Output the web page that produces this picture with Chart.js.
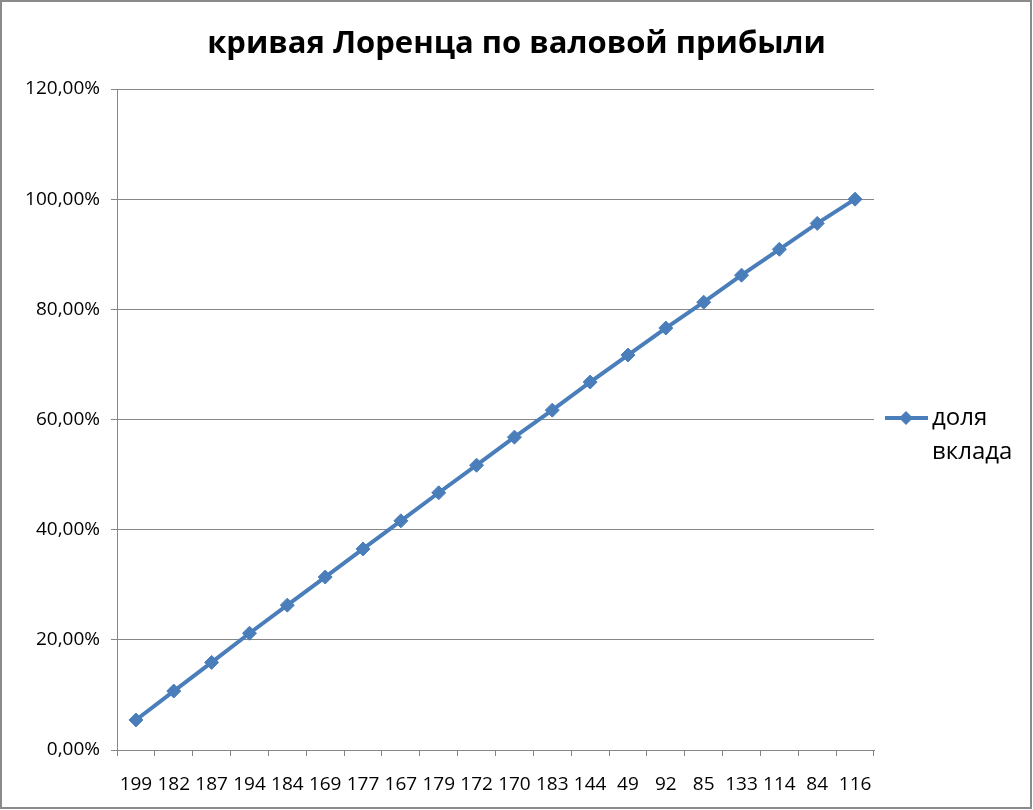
<!DOCTYPE html>
<html lang="ru">
<head>
  <meta charset="UTF-8">
  <title>кривая Лоренца по валовой прибыли</title>
  <script src="https://cdn.jsdelivr.net/npm/chart.js"></script>
  <style>
    html, body {
      margin: 0;
      padding: 0;
      background: #fff;
    }
    #wrap {
      position: fixed;
      left: 0;
      top: 0;
      width: 1033px;
      height: 810px;
    }
    #frame {
      position: absolute;
      left: 0;
      top: 0;
      width: 1032px;
      height: 809px;
      box-sizing: border-box;
      border: 2px solid #8a8a8a;
      pointer-events: none;
    }
  </style>
</head>
<body>
  <div id="wrap">
    <canvas id="lorenz" width="1033" height="810"></canvas>
    <div id="frame"></div>
  </div>

  <script>
    const chartTitle = 'кривая Лоренца по валовой прибыли';
    const seriesName = ['доля', 'вклада'];
    const categories = ['199', '182', '187', '194', '184', '169', '177', '167', '179', '172',
                        '170', '183', '144', '49', '92', '85', '133', '114', '84', '116'];
    const shareValues = [5.45, 10.7, 15.9, 21.2, 26.3, 31.4, 36.5, 41.6, 46.7, 51.7,
                         56.8, 61.7, 66.8, 71.7, 76.6, 81.3, 86.2, 90.9, 95.6, 100];
    const yMin = 0, yMax = 120, yStep = 20;

    const blue = '#4a7ebb';
    const gridGray = '#868686';
    const fontFamily = "'Open Sans', 'Liberation Sans', sans-serif";

    // title + legend drawn by hand so they sit where Excel put them
    const decorations = {
      id: 'decorations',
      afterDraw(chart) {
        const ctx = chart.ctx;
        ctx.save();
        ctx.fillStyle = '#000';
        ctx.textAlign = 'center';
        ctx.textBaseline = 'middle';
        ctx.font = 'bold 31px ' + fontFamily;
        ctx.fillText(chartTitle, chart.width / 2, 44);

        // legend
        const ly = 418;
        ctx.strokeStyle = blue;
        ctx.lineWidth = 4;
        ctx.beginPath();
        ctx.moveTo(885, ly);
        ctx.lineTo(928, ly);
        ctx.stroke();
        ctx.fillStyle = blue;
        ctx.beginPath();
        ctx.moveTo(906, ly - 7);
        ctx.lineTo(913, ly);
        ctx.lineTo(906, ly + 7);
        ctx.lineTo(899, ly);
        ctx.closePath();
        ctx.fill();

        ctx.fillStyle = '#000';
        ctx.textAlign = 'left';
        ctx.font = '24px ' + fontFamily;
        ctx.fillText(seriesName[0], 932, ly);
        ctx.fillText(seriesName[1], 932, ly + 34);
        ctx.restore();
      }
    };

    new Chart(document.getElementById('lorenz'), {
      type: 'line',
      data: {
        labels: categories,
        datasets: [{
          label: seriesName.join(' '),
          data: shareValues,
          borderColor: blue,
          backgroundColor: blue,
          borderWidth: 4,
          pointStyle: 'rectRot',
          pointRadius: 7,
          pointBackgroundColor: blue,
          pointBorderColor: blue,
          pointBorderWidth: 1,
          tension: 0
        }]
      },
      options: {
        responsive: false,
        animation: false,
        layout: {
          padding: { top: 89, right: 159, bottom: 0, left: 0 }
        },
        plugins: {
          legend: { display: false },
          title: { display: false },
          tooltip: { enabled: false }
        },
        scales: {
          x: {
            offset: true,
            afterFit(scale) { scale.height = 60; },
            grid: {
              offset: true,
              drawOnChartArea: false,
              drawTicks: true,
              tickLength: 6,
              color: gridGray
            },
            border: { color: gridGray, width: 1 },
            ticks: {
              color: '#000',
              padding: 17,
              maxRotation: 0,
              autoSkip: false,
              font: { family: fontFamily, size: 19 }
            }
          },
          y: {
            min: yMin,
            max: yMax,
            afterFit(scale) { scale.width = 117; },
            grid: {
              color: gridGray,
              tickLength: 6
            },
            border: { color: gridGray, width: 1 },
            ticks: {
              stepSize: yStep,
              color: '#000',
              padding: 11,
              font: { family: fontFamily, size: 19 },
              callback: v => v.toFixed(2).replace('.', ',') + '%'
            }
          }
        }
      },
      plugins: [decorations]
    });
  </script>
</body>
</html>
